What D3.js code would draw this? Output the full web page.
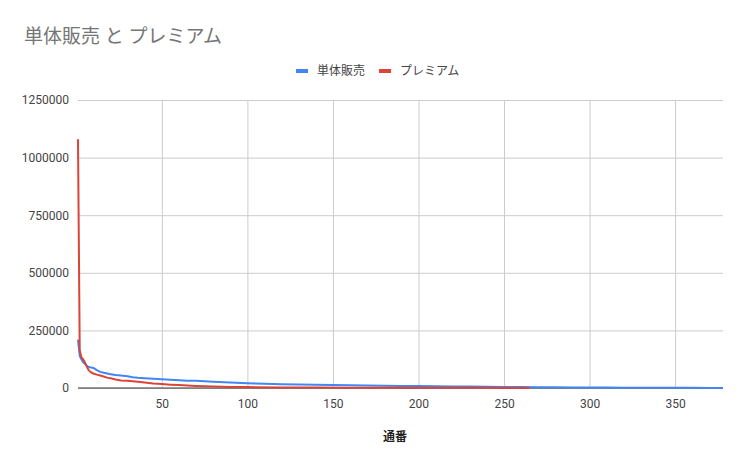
<!DOCTYPE html>
<html lang="ja">
<head>
<meta charset="utf-8">
<title>単体販売 と プレミアム</title>
<script src="https://d3js.org/d3.v7.min.js"></script>
<style>
  body { margin: 0; padding: 0; background: #fff; overflow: hidden; }
  text { font-family: Roboto, "Noto Sans CJK JP", sans-serif; }
</style>
</head>
<body>
<svg id="chart"></svg>
<script>
  // series names and values: [通番, value]
  const seriesNames = ["単体販売", "プレミアム"];
  const seriesColors = ["#4285f4", "#db4437"];

  const singleSales = [
    [1, 210000], [2, 140000], [3, 125000], [4, 112000], [5, 105000], [6, 98000],
    [7, 92000], [8, 90000], [10, 87000], [12, 78000], [14, 70000], [16, 66000],
    [18, 63000], [20, 60000], [23, 56000], [26, 54000], [30, 51000], [33, 47000],
    [36, 44000], [40, 42000], [45, 40000], [50, 38000], [55, 36000], [60, 34000],
    [65, 32000], [70, 31000], [75, 29000], [80, 27000], [90, 24000], [100, 21000],
    [110, 18500], [120, 16500], [130, 15000], [140, 14000], [150, 13000], [160, 12000],
    [170, 11000], [180, 10000], [190, 9200], [200, 8500], [210, 7600], [220, 6800],
    [230, 6000], [240, 5200], [250, 4600], [260, 4000], [270, 3400], [280, 2900],
    [290, 2500], [300, 2100], [310, 1800], [320, 1500], [330, 1300], [340, 1100],
    [350, 900], [360, 700], [370, 500], [378, 300]
  ];

  const premium = [
    [1, 1080000], [2, 165000], [3, 132000], [4, 125000], [5, 112000], [6, 95000],
    [7, 80000], [8, 72000], [9, 66000], [10, 63000], [12, 58000], [14, 54000],
    [16, 50000], [18, 45000], [20, 42000], [23, 37000], [26, 33000], [30, 31000],
    [33, 29000], [36, 27000], [40, 24000], [45, 20000], [50, 17000], [55, 14500],
    [60, 12500], [70, 9000], [80, 6500], [90, 4800], [100, 3800], [120, 2700],
    [140, 2000], [160, 1600], [180, 1300], [200, 1000], [220, 800], [240, 600],
    [265, 400]
  ];

  const xTicks = [50, 100, 150, 200, 250, 300, 350];
  const yTicks = [0, 250000, 500000, 750000, 1000000, 1250000];

  const width = 747;
  const height = 466;
  const margin = { top: 100, right: 24, bottom: 78, left: 78 };

  const svg = d3.select("#chart")
    .attr("width", width)
    .attr("height", height);

  const x = d3.scaleLinear()
    .domain([1, 378])
    .range([margin.left, width - margin.right]);

  const y = d3.scaleLinear()
    .domain([0, 1250000])
    .range([height - margin.bottom, margin.top]);

  // title
  svg.append("text")
    .attr("x", 24)
    .attr("y", 43)
    .attr("fill", "#757575")
    .style("font-size", "19px")
    .text("単体販売 と プレミアム");

  // legend
  const legend = svg.append("g").attr("transform", "translate(296,71)");
  let lx = 0;
  seriesNames.forEach((name, i) => {
    legend.append("rect")
      .attr("x", lx).attr("y", -2)
      .attr("width", 12).attr("height", 4)
      .attr("fill", seriesColors[i]);
    const t = legend.append("text")
      .attr("x", lx + 21).attr("y", 0)
      .attr("dy", "0.35em")
      .attr("fill", "#444")
      .style("font-size", "12px")
      .text(name);
    lx += 21 + t.node().getComputedTextLength() + 14;
  });

  // gridlines
  svg.append("g")
    .attr("transform", `translate(${margin.left},0)`)
    .call(d3.axisLeft(y).tickValues(yTicks).tickSize(-(width - margin.left - margin.right)).tickFormat(""))
    .call(g => g.select(".domain").remove())
    .call(g => g.selectAll("line").attr("stroke", "#cccccc"));

  svg.append("g")
    .attr("transform", `translate(0,${height - margin.bottom})`)
    .call(d3.axisBottom(x).tickValues(xTicks).tickSize(-(height - margin.top - margin.bottom)).tickFormat(""))
    .call(g => g.select(".domain").remove())
    .call(g => g.selectAll("line").attr("stroke", "#cccccc"));

  // y labels
  svg.append("g")
    .attr("transform", `translate(${margin.left - 6},0)`)
    .call(d3.axisLeft(y).tickValues(yTicks).tickSize(0).tickFormat(d3.format("d")))
    .call(g => g.select(".domain").remove())
    .call(g => g.selectAll("text")
      .attr("fill", "#444")
      .style("font-size", "12px")
      .style("font-family", "Roboto, sans-serif"));

  // x labels
  svg.append("g")
    .attr("transform", `translate(0,${height - margin.bottom + 8})`)
    .call(d3.axisBottom(x).tickValues(xTicks).tickSize(0).tickFormat(d3.format("d")))
    .call(g => g.select(".domain").remove())
    .call(g => g.selectAll("text")
      .attr("fill", "#444")
      .style("font-size", "12px")
      .style("font-family", "Roboto, sans-serif"));

  // zero baseline
  svg.append("line")
    .attr("x1", margin.left).attr("x2", width - margin.right)
    .attr("y1", y(0)).attr("y2", y(0))
    .attr("stroke", "#333");

  // x axis title
  svg.append("text")
    .attr("x", 395)
    .attr("y", 441)
    .attr("text-anchor", "middle")
    .attr("fill", "#222")
    .style("font-size", "12px")
    .style("font-weight", "bold")
    .text("通番");

  const line = d3.line()
    .x(d => x(d[0]))
    .y(d => y(d[1]));

  [singleSales, premium].forEach((data, i) => {
    svg.append("path")
      .datum(data)
      .attr("fill", "none")
      .attr("stroke", seriesColors[i])
      .attr("stroke-width", 2)
      .attr("stroke-linejoin", "round")
      .attr("d", line);
  });
</script>
</body>
</html>
